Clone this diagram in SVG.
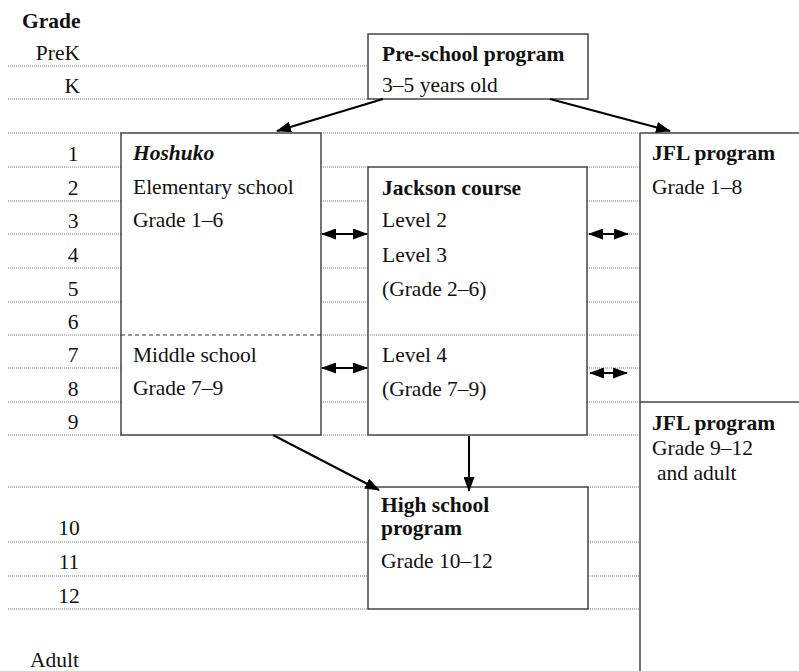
<svg xmlns="http://www.w3.org/2000/svg" width="799" height="671" viewBox="0 0 799 671" font-family="Liberation Serif, DejaVu Serif, serif">
<defs>
<marker id="ah" viewBox="0 0 15 11" refX="14" refY="5.5" markerWidth="15" markerHeight="11" orient="auto-start-reverse" markerUnits="userSpaceOnUse"><path d="M0,0 L15,5.5 L0,11 z" fill="#000"/></marker>
<style>
text{font-family:'Liberation Serif','DejaVu Serif',serif;font-size:21.5px;fill:#111}
.b{font-weight:bold}
.bi{font-weight:bold;font-style:italic}
.lab{text-anchor:middle}
.rlab{text-anchor:end}
.dot{stroke:#777;stroke-width:1;stroke-dasharray:1 1;fill:none}
.dash{stroke:#333;stroke-width:1.2;stroke-dasharray:4 3;fill:none}
.box{fill:#fff;stroke:#444;stroke-width:1.5}
.sol{stroke:#444;stroke-width:1.5;fill:none}
.arr{stroke:#000;stroke-width:2;fill:none;marker-end:url(#ah)}
.darr{stroke:#000;stroke-width:2;fill:none;marker-end:url(#ah);marker-start:url(#ah)}
</style>
</defs>

<g id="grid">
<path class="dot" d="M8,66H368 M8,99H368
M8,133H121 M321,133H640
M8,167H121 M321,167H368 M587,167H640
M8,201H121 M321,201H368 M587,201H640
M8,234H121 M321,234H368 M587,234H640
M8,268H121 M321,268H368 M587,268H640
M8,302H121 M321,302H368 M587,302H640
M8,335H121 M321,335H640
M8,368H121 M321,368H368 M587,368H640
M8,402H121 M321,402H368 M587,402H640
M8,435H121 M321,435H368 M587,435H640
M8,487H368 M588,487H640
M8,542H368 M588,542H640
M8,576H368 M588,576H640
M8,609H368 M588,609H640"/>
<path class="sol" d="M640,133H799 M640,402H799 M640,133V671"/>
</g>

<g id="grade-labels">
<text class="b" x="22" y="28">Grade</text>
<text class="rlab" x="80" y="60">PreK</text>
<text class="rlab" x="80" y="93">K</text>
<text class="lab" x="73" y="161">1</text>
<text class="lab" x="73" y="195">2</text>
<text class="lab" x="73" y="228">3</text>
<text class="lab" x="73" y="262">4</text>
<text class="lab" x="73" y="296">5</text>
<text class="lab" x="73" y="329">6</text>
<text class="lab" x="73" y="362">7</text>
<text class="lab" x="73" y="396">8</text>
<text class="lab" x="73" y="429">9</text>
<text class="lab" x="69" y="535">10</text>
<text class="lab" x="69" y="569">11</text>
<text class="lab" x="69" y="603">12</text>
<text x="30" y="667">Adult</text>
</g>

<g id="preschool">
<rect class="box" x="368" y="34" width="220" height="65"/>
<text class="b" x="382" y="61">Pre-school program</text>
<text x="382" y="92">3–5 years old</text>
</g>

<g id="hoshuko">
<rect class="box" x="121" y="133" width="200" height="302"/>
<line class="dash" x1="121" y1="335" x2="321" y2="335"/>
<text class="bi" x="133" y="160">Hoshuko</text>
<text x="133" y="194">Elementary school</text>
<text x="133" y="227">Grade 1–6</text>
<text x="133" y="362">Middle school</text>
<text x="133" y="395">Grade 7–9</text>
</g>

<g id="jackson">
<rect class="box" x="368" y="167" width="219" height="268"/>
<line class="dot" x1="368" y1="335" x2="587" y2="335"/>
<text class="b" x="382" y="195">Jackson course</text>
<text x="382" y="227">Level 2</text>
<text x="382" y="262">Level 3</text>
<text x="382" y="296">(Grade 2–6)</text>
<text x="382" y="362">Level 4</text>
<text x="382" y="396">(Grade 7–9)</text>
</g>

<g id="jfl1">
<text class="b" x="652" y="160">JFL program</text>
<text x="652" y="194">Grade 1–8</text>
</g>

<g id="jfl2">
<text class="b" x="652" y="430">JFL program</text>
<text x="652" y="455">Grade 9–12</text>
<text x="657" y="480">and adult</text>
</g>

<g id="highschool">
<rect class="box" x="368" y="487" width="220" height="122"/>
<text class="b" x="381" y="512">High school</text>
<text class="b" x="381" y="535">program</text>
<text x="381" y="568">Grade 10–12</text>
</g>

<g id="connectors">
<line class="arr" x1="383" y1="99" x2="277" y2="131"/>
<line class="arr" x1="550" y1="99" x2="670" y2="131"/>
<line class="arr" x1="273" y1="435" x2="379" y2="490"/>
<line class="arr" x1="469" y1="436" x2="469" y2="491"/>
<line class="darr" x1="322" y1="234" x2="367" y2="234"/>
<line class="darr" x1="322" y1="368" x2="367" y2="368"/>
<line class="darr" x1="589" y1="234" x2="628" y2="234"/>
<line class="darr" x1="590" y1="373" x2="627" y2="373"/>
</g>
</svg>
